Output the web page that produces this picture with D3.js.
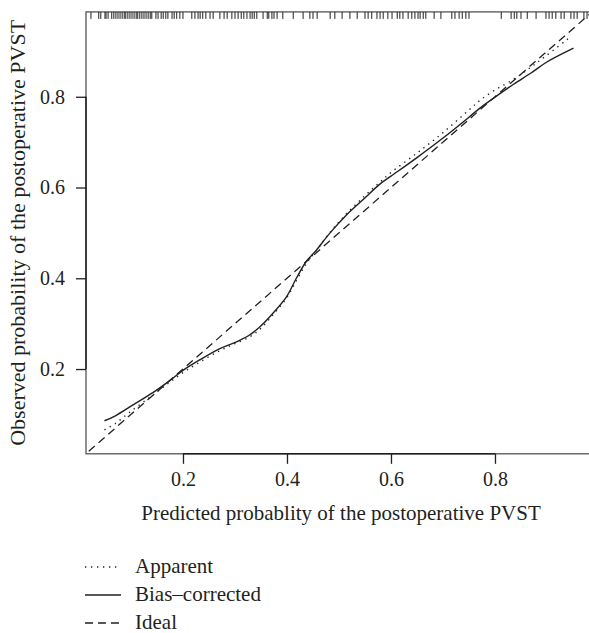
<!DOCTYPE html>
<html><head><meta charset="utf-8">
<script src="https://cdn.jsdelivr.net/npm/d3@7/dist/d3.min.js"></script>
<style>
html,body{margin:0;padding:0;background:#fff;}
svg{display:block;}
text{font-family:"Liberation Serif","DejaVu Serif",serif;fill:#231f20;}
</style></head>
<body>
<script>
const xTicks = [0.2, 0.4, 0.6, 0.8];
const yTicks = [0.2, 0.4, 0.6, 0.8];
const xLabel = "Predicted probablity of the postoperative PVST";
const yLabel = "Observed probability of the postoperative PVST";
const legendLabels = ["Apparent", "Bias\u2013corrected", "Ideal"];

const apparentX = [0.049,0.07,0.10,0.14,0.17,0.20,0.232,0.27,0.30,0.33,0.35,0.375,0.40,0.42,0.44,0.46,0.48,0.51,0.55,0.58,0.60,0.65,0.70,0.75,0.771,0.80,0.835,0.87,0.899,0.942];
const apparentY = [0.066,0.080,0.107,0.141,0.167,0.192,0.215,0.240,0.256,0.272,0.290,0.322,0.358,0.399,0.437,0.466,0.497,0.537,0.582,0.613,0.633,0.676,0.721,0.771,0.792,0.815,0.838,0.866,0.891,0.929];

const biasX = [0.049,0.07,0.104,0.142,0.174,0.20,0.232,0.271,0.303,0.328,0.348,0.373,0.399,0.418,0.437,0.4565,0.482,0.514,0.546,0.578,0.60,0.65,0.70,0.75,0.771,0.80,0.835,0.87,0.899,0.951];
const biasY = [0.086,0.097,0.121,0.148,0.174,0.197,0.220,0.245,0.260,0.275,0.293,0.323,0.359,0.400,0.437,0.462,0.499,0.539,0.573,0.607,0.625,0.666,0.709,0.755,0.775,0.799,0.827,0.853,0.876,0.907];

const rugValues = [0.023,0.038,0.042,0.050,0.052,0.056,0.063,0.067,0.071,0.075,0.079,0.083,0.087,0.090,0.094,0.098,0.102,0.106,0.110,0.113,0.117,0.121,0.125,0.129,0.133,0.137,0.140,0.148,0.152,0.158,0.162,0.167,0.171,0.179,0.183,0.188,0.194,0.200,0.217,0.223,0.229,0.233,0.238,0.244,0.252,0.258,0.271,0.279,0.285,0.294,0.300,0.306,0.312,0.317,0.323,0.329,0.333,0.337,0.342,0.354,0.362,0.365,0.371,0.375,0.381,0.392,0.412,0.431,0.444,0.450,0.458,0.483,0.492,0.506,0.521,0.535,0.550,0.556,0.563,0.573,0.579,0.585,0.594,0.602,0.612,0.617,0.623,0.633,0.640,0.646,0.652,0.656,0.662,0.667,0.683,0.696,0.717,0.723,0.731,0.737,0.744,0.750,0.812,0.831,0.837,0.842,0.850,0.862,0.879,0.898,0.904,0.910,0.917,0.927,0.933,0.946,0.952,0.958,0.971,0.977];

const W = 589, H = 633;
const svg = d3.select("body").append("svg").attr("width", W).attr("height", H);

const x = d3.scaleLinear().domain([0.0135, 0.985]).range([86, 591.2]);
const y = d3.scaleLinear().domain([0.0132, 0.987]).range([453.8, 11.9]);
const [x0, x1] = x.range(), [y0, y1] = y.range();

svg.append("clipPath").attr("id", "clip").append("rect")
  .attr("x", x0).attr("y", y1).attr("width", x1 - x0).attr("height", y0 - y1);

// box
svg.append("rect").attr("x", x0).attr("y", y1).attr("width", x1 - x0).attr("height", y0 - y1)
  .attr("fill", "none").attr("stroke", "#555").attr("stroke-width", 1.3);

// axes
const fs = 20;
const xAxis = svg.append("g").attr("transform", `translate(0,${y0})`)
  .call(d3.axisBottom(x).tickValues(xTicks).tickFormat(d3.format(".1f")).tickSize(10).tickPadding(8));
const yAxis = svg.append("g").attr("transform", `translate(${x0},0)`)
  .call(d3.axisLeft(y).tickValues(yTicks).tickFormat(d3.format(".1f")).tickSize(10).tickPadding(11));
[xAxis, yAxis].forEach(g => {
  g.select(".domain").remove();
  g.selectAll(".tick line").attr("stroke", "#231f20").attr("stroke-width", 1.3);
  g.selectAll(".tick text").attr("font-size", fs).style("font-family", '"Liberation Serif",serif').attr("fill", "#231f20");
});
// axis lines spanning first to last tick
svg.append("line").attr("x1", x(xTicks[0])).attr("x2", x(xTicks[xTicks.length-1]))
  .attr("y1", y0).attr("y2", y0).attr("stroke", "#231f20").attr("stroke-width", 1.5);
svg.append("line").attr("x1", x0).attr("x2", x0)
  .attr("y1", y(yTicks[0])).attr("y2", y(yTicks[yTicks.length-1])).attr("stroke", "#231f20").attr("stroke-width", 1.5);

// axis titles
svg.append("text").attr("x", 341).attr("y", 520).attr("text-anchor", "middle")
  .attr("font-size", 21).text(xLabel);
svg.append("text").attr("transform", `translate(25,${(y0 + y1) / 2}) rotate(-90)`)
  .attr("text-anchor", "middle").attr("font-size", 22).text(yLabel);

const plot = svg.append("g").attr("clip-path", "url(#clip)");

// rug
plot.selectAll(".rug").data(rugValues).enter().append("line")
  .attr("x1", d => x(d)).attr("x2", d => x(d))
  .attr("y1", y1).attr("y2", y1 + 7)
  .attr("stroke", "#231f20").attr("stroke-width", 1);

// ideal
plot.append("line").attr("x1", x(0)).attr("y1", y(0)).attr("x2", x(1)).attr("y2", y(1))
  .attr("stroke", "#231f20").attr("stroke-width", 1.3).attr("stroke-dasharray", "8,5");

const line = d3.line().x(d => x(d[0])).y(d => y(d[1])).curve(d3.curveCatmullRom.alpha(0.5));
plot.append("path").datum(apparentX.map((v, i) => [v, apparentY[i]]))
  .attr("d", line).attr("fill", "none").attr("stroke", "#231f20")
  .attr("stroke-width", 1.4).attr("stroke-dasharray", "1.3,4.7");
plot.append("path").datum(biasX.map((v, i) => [v, biasY[i]]))
  .attr("d", line).attr("fill", "none").attr("stroke", "#231f20").attr("stroke-width", 1.4);

// legend
const styles = ["1.3,4.7", null, "8,5"];
const lg = svg.append("g");
legendLabels.forEach((lab, i) => {
  const ly = 567 + i * 28;
  const l = lg.append("line").attr("x1", 85).attr("x2", 121).attr("y1", ly).attr("y2", ly)
    .attr("stroke", "#231f20").attr("stroke-width", 1.4);
  if (styles[i]) l.attr("stroke-dasharray", styles[i]);
  lg.append("text").attr("x", 135).attr("y", ly + 6).attr("font-size", 21).text(lab);
});
</script>
</body></html>
